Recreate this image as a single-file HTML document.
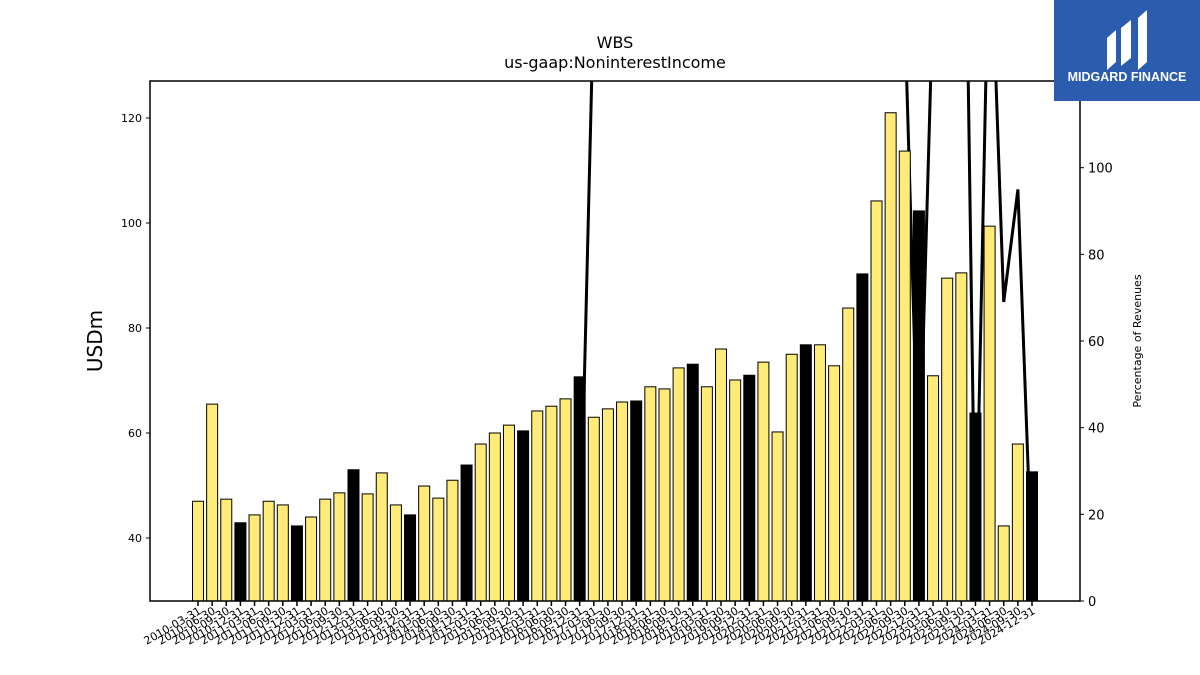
<!DOCTYPE html>
<html><head><meta charset="utf-8"><style>
body{margin:0;background:#fff;font-family:"Liberation Sans","DejaVu Sans",sans-serif;}
svg{display:block}
</style></head><body>
<svg id="chart" width="1200" height="675" xmlns="http://www.w3.org/2000/svg" font-family="DejaVu Sans, Liberation Sans, sans-serif">
<rect x="0" y="0" width="1200" height="675" fill="#fff"/>
<text x="615" y="48" font-size="16" text-anchor="middle">WBS</text>
<text x="615" y="68" font-size="16" text-anchor="middle">us-gaap:NoninterestIncome</text>
<g id="plot"></g>
<text transform="translate(102,341) rotate(-90)" font-size="20" text-anchor="middle">USDm</text>
<text transform="translate(1141,341) rotate(-90)" font-size="11" text-anchor="middle">Percentage of Revenues</text>
<g>
<rect x="1054" y="0" width="146" height="101" fill="#2b5cad"/>
<path d="M1107 70 L1107 38 L1116 30 L1116 62 Z M1121 66 L1121 28 L1131 20 L1131 58 Z M1138 70 L1138 18 L1147 10 L1147 62 Z" fill="#fff"/>
<text x="1127" y="81" font-size="12.5" font-weight="bold" fill="#fff" text-anchor="middle" font-family="Liberation Sans, sans-serif">MIDGARD FINANCE</text>
</g>
</svg>
<script>
const categories = [];
for (let y = 2010; y <= 2024; y++) for (const md of ["03-31","06-30","09-30","12-31"]) categories.push(y + "-" + md);
const incomeValues = [47.0,65.5,47.4,42.9,44.4,47.0,46.3,42.3,44.0,47.4,48.6,53.0,48.4,52.4,46.3,44.4,49.9,47.6,51.0,53.9,57.9,60.0,61.5,60.4,64.2,65.1,66.5,70.7,63.0,64.6,65.9,66.1,68.8,68.4,72.4,73.1,68.8,76.0,70.1,71.0,73.5,60.2,75.0,76.8,76.8,72.8,83.8,90.3,104.2,121.0,113.7,102.3,70.9,89.5,90.5,63.8,99.4,42.3,57.9,52.6];
const pctValues = [null,null,null,null,null,null,null,null,null,null,null,null,null,null,null,null,null,null,null,null,null,null,null,null,null,null,null,7,140,180,180,180,180,180,180,180,180,180,180,180,180,180,180,180,180,180,180,180,180,180,135,25,140,230,230,5,162,69,95,6];
const leftTicks = [40,60,80,100,120];
const rightTicks = [0,20,40,60,80,100];

const NS = "http://www.w3.org/2000/svg";
const X0 = 150, X1 = 1080, Y0 = 81, Y1 = 601;
const yL = v => Y1 - (v - 28) * 5.25;
const yR = v => Y1 - v * 4.333;
const step = (1032 - 198) / (categories.length - 1);
const xC = i => 198 + i * step;
const plot = document.getElementById("plot");
function mk(tag, attrs, parent) {
  const e = document.createElementNS(NS, tag);
  for (const k in attrs) e.setAttribute(k, attrs[k]);
  (parent || plot).appendChild(e);
  return e;
}
const defs = mk("defs", {});
const cp = mk("clipPath", {id: "clip"}, defs);
mk("rect", {x: X0, y: Y0, width: X1 - X0, height: Y1 - Y0}, cp);

// line (behind bars)
let d = "";
pctValues.forEach((v, i) => { if (v !== null) d += (d ? " L" : "M") + xC(i).toFixed(1) + " " + yR(v).toFixed(1); });
const line = mk("path", {d: d, fill: "none", stroke: "#000", "stroke-width": 3, "clip-path": "url(#clip)"});



// bars
incomeValues.forEach((v, i) => {
  const q4 = i % 4 === 3;
  const r = mk("rect", {x: xC(i) - 5.5, y: yL(v), width: 11, height: Y1 - yL(v), fill: q4 ? "#000" : "#ffec78", stroke: "#000", "stroke-width": 1});
  
  
});

// frame
const fr = mk("rect", {x: X0, y: Y0, width: X1 - X0, height: Y1 - Y0, fill: "none", stroke: "#000", "stroke-width": 1.5});



// left ticks
leftTicks.forEach(t => {
  const y = yL(t);
  mk("line", {x1: X0 - 4, x2: X0, y1: y, y2: y, stroke: "#000"});
  const tx = mk("text", {x: X0 - 8, y: y + 4, "font-size": 11, "text-anchor": "end"});
  tx.textContent = t;
  
  
});
// right ticks
rightTicks.forEach(t => {
  const y = yR(t);
  mk("line", {x1: X1, x2: X1 + 4, y1: y, y2: y, stroke: "#000"});
  const tx = mk("text", {x: X1 + 8, y: y + 5, "font-size": 13, "text-anchor": "start"});
  tx.textContent = t;
  
  
});
// x ticks
categories.forEach((c, i) => {
  const x = xC(i);
  mk("line", {x1: x, x2: x, y1: Y1, y2: Y1 + 5, stroke: "#000", "stroke-width": 1.5});
  const tx = mk("text", {transform: "translate(" + (x + 4) + "," + (Y1 + 12) + ") rotate(-30)", "font-size": 11, "text-anchor": "end"});
  tx.textContent = c;
  
  
});
</script>
</body></html>
